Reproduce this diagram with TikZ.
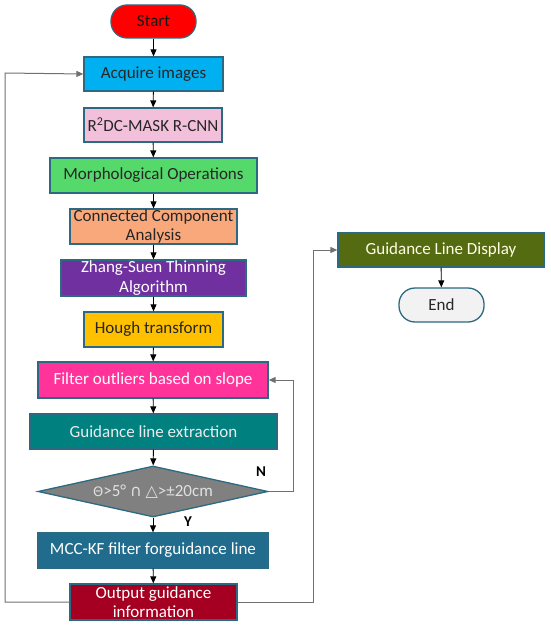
\documentclass[tikz,border=0pt]{standalone}
\usepackage{fontspec}
\setmainfont{Carlito}
\newfontfamily\symfont{DejaVu Sans}
\usetikzlibrary{arrows.meta,shapes.geometric}
\definecolor{cstart}{HTML}{FF0000}
\definecolor{cacq}{HTML}{00B0F0}
\definecolor{crpink}{HTML}{F3C0DB}
\definecolor{cmorph}{HTML}{55D96B}
\definecolor{ccca}{HTML}{F8A87A}
\definecolor{czs}{HTML}{7030A0}
\definecolor{chough}{HTML}{FFC000}
\definecolor{cfilt}{HTML}{FF3399}
\definecolor{cgle}{HTML}{00807F}
\definecolor{cdia}{HTML}{808080}
\definecolor{cmcc}{HTML}{216C8D}
\definecolor{cout}{HTML}{A50021}
\definecolor{cgld}{HTML}{556B12}
\definecolor{cend}{HTML}{F2F2F2}
\definecolor{cbord}{HTML}{2B6A80}
\definecolor{cline}{HTML}{707070}
\tikzset{
  box/.style={draw=cbord, line width=1.3pt, rectangle, inner sep=0pt, align=center,
    font=\fontsize{17}{19.5}\selectfont},
  term/.style={box, rounded corners=16pt},
  arr/.style={-{Triangle[length=7pt,width=6pt]}, line width=0.9pt, black},
  loop/.style={-{Triangle[length=7pt,width=6pt]}, line width=1pt, draw=cline},
  lab/.style={font=\fontsize{15}{15}\selectfont\bfseries, text=black}
}
\begin{document}
\begin{tikzpicture}[x=1pt,y=-1pt]
\useasboundingbox (0,0) rectangle (550,626);
\node[term, fill=cstart, text=black!90, minimum width=85pt, minimum height=33pt] (start) at (153.5,21.5) {Start};
\node[box, fill=cacq, text=black!85, minimum width=139pt, minimum height=34pt] (acq) at (153.5,74) {Acquire images};
\node[box, fill=crpink, text=black!85, minimum width=138pt, minimum height=34pt] (r2dc) at (153,125) {R\textsuperscript{2}DC-MASK R-CNN};
\node[box, fill=cmorph, text=black!85, minimum width=207pt, minimum height=35pt] (morph) at (153.5,175.5) {Morphological Operations};
\node[box, fill=ccca, text=black!85, minimum width=167pt, minimum height=35pt] (cca) at (153.5,226.5) {Connected Component\\Analysis};
\node[box, fill=czs, text=white, minimum width=185pt, minimum height=36pt] (zs) at (153.5,278) {Zhang-Suen Thinning\\Algorithm};
\node[box, fill=chough, text=black!85, minimum width=139pt, minimum height=35pt] (hough) at (153.5,329.5) {Hough transform};
\node[box, fill=cfilt, text=white, minimum width=230pt, minimum height=36pt] (filt) at (153,380) {Filter outliers based on slope};
\node[box, fill=cgle, text=white!92!black, minimum width=247pt, minimum height=35pt] (gle) at (153.5,431.5) {Guidance line extraction};
\node[diamond, draw=cbord, line width=1.3pt, fill=cdia, inner sep=0pt, minimum width=230pt, minimum height=51pt] (dia) at (153,491.5) {};
\node[text=white!88!black, font=\fontsize{17}{19}\selectfont, inner sep=0pt] (diatext) at (dia.center) {{\fontsize{13}{13}\selectfont\symfont Θ}>5° {\symfont\fontsize{16}{16}\selectfont ∩} {\symfont\fontsize{16}{16}\selectfont △}>±20cm};
\node[box, fill=cmcc, text=white, minimum width=230pt, minimum height=35pt] (mcc) at (153,550.5) {MCC-KF filter forguidance line};
\node[box, fill=cout, text=white, minimum width=167pt, minimum height=36pt] (out) at (153.5,602) {Output guidance\\information};
\node[box, fill=cgld, text=white!90!yellow, minimum width=206pt, minimum height=34pt] (gld) at (441,250) {Guidance Line Display};
\node[term, fill=cend, text=black!85, minimum width=85pt, minimum height=34pt] (end) at (441.5,305) {End};

\draw[arr] (start) -- (acq);
\draw[arr] (acq) -- (r2dc);
\draw[arr] (r2dc) -- (morph);
\draw[arr] (morph) -- (cca);
\draw[arr] (cca) -- (zs);
\draw[arr] (zs) -- (hough);
\draw[arr] (hough) -- (filt);
\draw[arr] (filt) -- (gle);
\draw[arr] (gle) -- (dia);
\draw[arr] (dia) -- (mcc);
\draw[arr] (mcc) -- (out);
\draw[arr] (gld) -- (end);

\draw[loop] (out.west) -- (5,602) -- (5,73) -- (acq.west);
\draw[loop] (out.east) -- (313,602) -- (313,250) -- (gld.west);
\draw[loop] (dia.east) -- (293,491.5) -- (293,380) -- (filt.east);

\node[lab] (nlab) at (261,472) {N};
\node[lab] (ylab) at (188,522) {Y};
\end{tikzpicture}
\end{document}
